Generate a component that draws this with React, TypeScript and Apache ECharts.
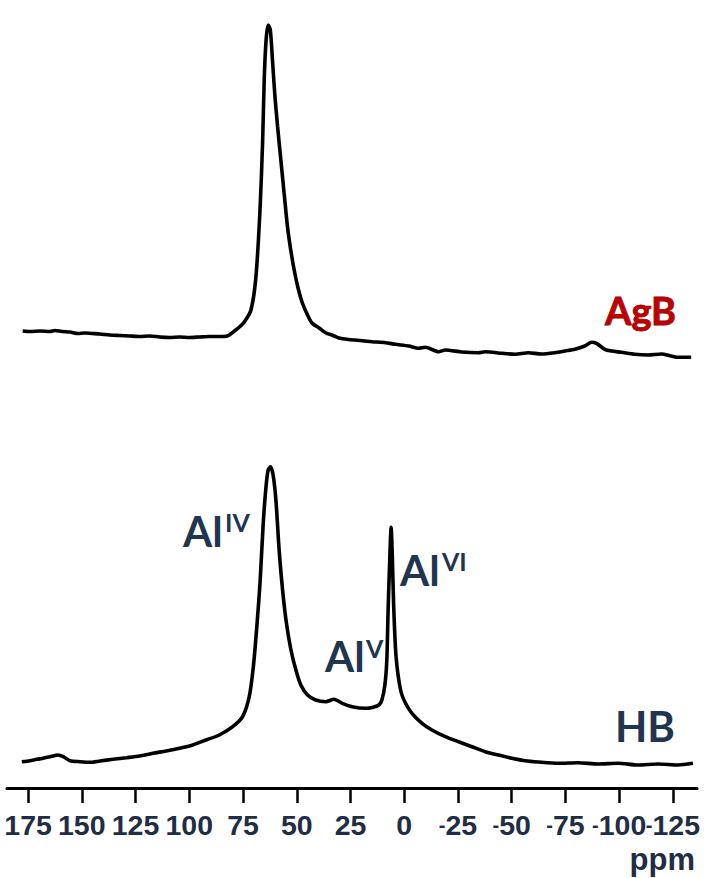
import React, { useEffect, useRef } from "react";
import * as echarts from "echarts";

// Chemical shift axis (ppm) tick labels
const tickValues = [175, 150, 125, 100, 75, 50, 25, 0, -25, -50, -75, -100, -125];

// AgB spectrum (upper trace): ppm positions and intensities (arb. units)
const agbPpm = [
  177.5, 174.1, 169.4, 164.8, 162.5, 159.2, 155.5, 151.8, 148.6, 145.3, 141.6, 137.0, 132.3, 127.7,
  123.1, 118.4, 113.8, 109.2, 104.5, 99.9, 95.3, 90.6, 86.0, 82.3, 79.0, 76.7, 74.4, 71.3, 69.0,
  67.1, 65.9, 65.1, 64.2, 63.3, 62.3, 61.3, 60.2, 58.9, 57.4, 55.8, 54.3, 52.8, 51.2, 49.4, 47.4,
  45.2, 42.9, 39.6, 36.4, 33.6, 30.4, 25.8, 19.7, 14.9, 8.7, 4.1, -2.1, -6.7, -9.8, -16.0, -19.1,
  -26.8, -34.5, -37.7, -45.4, -51.6, -57.8, -63.9, -70.1, -74.8, -79.4, -84.0, -87.1, -89.4, -93.3,
  -96.4, -101.0, -107.2, -113.4, -119.6, -124.2, -127.3, -133.5,
];
const agbIntensity = [
  29, 28.5, 29, 28.5, 29.5, 28.5, 28, 26.5, 27, 26.5, 26, 25, 24.5, 24,
  23.5, 24, 23, 22.5, 23, 22.5, 23, 23.5, 23.5, 24, 29, 33, 38, 50, 83,
  150, 217, 283, 322, 335, 330, 300, 265, 233, 200, 165, 133, 110, 90, 72, 57,
  46, 37, 32, 27, 25, 22, 20.5, 19.3, 18.3, 17.3, 15.7, 14, 11.7, 12.7, 8.3, 10,
  8, 7.3, 8.3, 6.7, 5.7, 7.3, 6, 7.3, 9, 10.7, 14, 17.7, 16.7, 10.7,
  9, 7.7, 5.7, 5, 6, 4, 2.7, 2.7,
];
const agbOffset = 428;

// HB spectrum (lower trace)
const hbPpm = [
  177.9, 174.1, 171.0, 167.9, 164.8, 161.0, 158.6, 155.5, 150.9, 146.3, 141.6, 135.5, 129.2, 123.1,
  116.9, 110.7, 104.5, 98.4, 92.2, 86.0, 79.8, 75.2, 72.1, 70.2, 68.7, 67.1, 65.6, 64.3, 63.3, 62.2,
  61.0, 59.7, 58.2, 56.6, 54.8, 52.7, 50.4, 48.1, 45.0, 41.2, 36.5, 32.7, 28.8, 24.2, 18.0, 14.9,
  11.8, 10.4, 9.0, 8.1, 7.5, 6.7, 6.1, 5.5, 4.9, 3.8, 1.7, -0.6, -3.6, -8.3, -12.9, -19.1, -25.3,
  -31.5, -37.7, -43.8, -50.0, -56.2, -62.4, -71.7, -80.9, -90.2, -99.5, -108.8, -118.1, -127.3, -134.3,
];
const hbIntensity = [
  8.3, 9.3, 10.7, 11.7, 13.3, 15, 13.3, 9.3, 8.3, 7.7, 9, 10.7, 12.3, 14,
  16.7, 19, 21.7, 25, 30, 35, 43.3, 53.3, 73.3, 103.3, 140, 186.7, 246.7, 283.3, 300, 303.3,
  295, 270, 220, 180, 146.7, 120, 100, 85, 75, 70, 68.3, 70.7, 66.7, 63.3, 61.7, 62.5,
  65, 70, 85, 110, 160, 213.3, 242.7, 210, 163.3, 113.3, 80, 66.7, 56.7, 46.7, 40, 33.3, 28.3,
  23.3, 18.3, 15, 11.7, 9.3, 8, 6.7, 7.3, 6, 6.7, 5, 6, 5, 6.7,
];
const hbOffset = 18;

const navy = "#1f3550";
const axisNavy = "#1f2d45";
const labelFont = "Lato, 'Open Sans', 'DejaVu Sans', sans-serif";
const axisFont = "'Liberation Sans', Arimo, 'DejaVu Sans', sans-serif";

const xMin = -136.2;
const xMax = 184.8;

function txt(text: string, x: number, y: number, size: number, fill: string, align = "left") {
  return {
    type: "text",
    x,
    y,
    silent: true,
    style: {
      text,
      fill,
      font: `bold ${size}px ${labelFont}`,
      align,
      verticalAlign: "middle",
    },
  };
}

export default function App() {
  const ref = useRef<HTMLDivElement>(null);
  useEffect(() => {
    if (!ref.current) return;
    const chart = echarts.init(ref.current, undefined, { renderer: "svg" });
    const agbData = agbPpm.map((p, i) => [p, agbIntensity[i] + agbOffset]);
    const hbData = hbPpm.map((p, i) => [p, hbIntensity[i] + hbOffset]);
    // alternate labels split over two coincident axes so neighbours never get culled
    const labelsA = tickValues.filter((_, i) => i % 2 === 0);
    const labelsB = tickValues.filter((_, i) => i % 2 === 1);
    const labelStyle = {
      margin: 22,
      color: axisNavy,
      fontWeight: "bold",
      fontFamily: axisFont,
      showMinLabel: true,
      showMaxLabel: true,
      hideOverlap: false,
      formatter: (v: number) => (v < 0 ? `{m|-}{d|${Math.abs(v)}}` : `{d|${v}}`),
      rich: {
        m: { fontSize: 20, fontWeight: "bold", fontFamily: axisFont, color: axisNavy },
        d: { fontSize: 28.5, fontWeight: "bold", fontFamily: axisFont, color: axisNavy },
      },
    };
    chart.setOption({
      animation: false,
      backgroundColor: "#ffffff",
      grid: {
        left: 7,
        right: 16,
        top: 18,
        bottom: 90,
        containLabel: false,
        outerBoundsMode: "none",
      },
      xAxis: [
        {
          type: "value",
          inverse: true,
          min: xMin,
          max: xMax,
          position: "bottom",
          splitLine: { show: false },
          axisLine: { show: true, onZero: false, lineStyle: { color: "#000", width: 3 } },
          axisTick: {
            show: true,
            length: 15,
            customValues: tickValues,
            lineStyle: { color: "#000", width: 2.5 },
          },
          axisLabel: { ...labelStyle, customValues: labelsA },
        },
        {
          type: "value",
          inverse: true,
          min: xMin,
          max: xMax,
          position: "bottom",
          offset: 0,
          splitLine: { show: false },
          axisLine: { show: false, onZero: false },
          axisTick: { show: false },
          axisLabel: { ...labelStyle, customValues: labelsB },
        },
      ],
      yAxis: { type: "value", min: 0, max: 770, show: false },
      series: [
        {
          type: "line",
          xAxisIndex: 0,
          data: agbData,
          showSymbol: false,
          smooth: 0.25,
          lineStyle: { color: "#000", width: 3.6 },
        },
        {
          type: "line",
          xAxisIndex: 0,
          data: hbData,
          showSymbol: false,
          smooth: 0.25,
          lineStyle: { color: "#000", width: 3.6 },
        },
      ],
      graphic: [
        {
          type: "text",
          x: 605,
          y: 310,
          silent: true,
          style: {
            text: "AgB",
            fill: "#c00000",
            stroke: "#7a0000",
            lineWidth: 0.8,
            font: `bold 38px ${labelFont}`,
            align: "left",
            verticalAlign: "middle",
          },
        },
        txt("HB", 615, 726, 42, navy),
        txt("Al", 183, 531, 42, navy),
        txt("IV", 225, 522, 25, navy),
        txt("Al", 325, 656, 42, navy),
        txt("V", 366, 648, 25, navy),
        txt("Al", 400, 570, 42, navy),
        txt("VI", 442, 561, 25, navy),
        {
          type: "text",
          x: 695,
          y: 859,
          silent: true,
          style: {
            text: "ppm",
            fill: axisNavy,
            font: `bold 31px ${axisFont}`,
            align: "right",
            verticalAlign: "middle",
          },
        },
      ],
    });
    return () => chart.dispose();
  }, []);
  return (
    <div
      ref={ref}
      style={{ position: "fixed", left: 0, top: 0, width: 713, height: 878, background: "#fff" }}
    />
  );
}
